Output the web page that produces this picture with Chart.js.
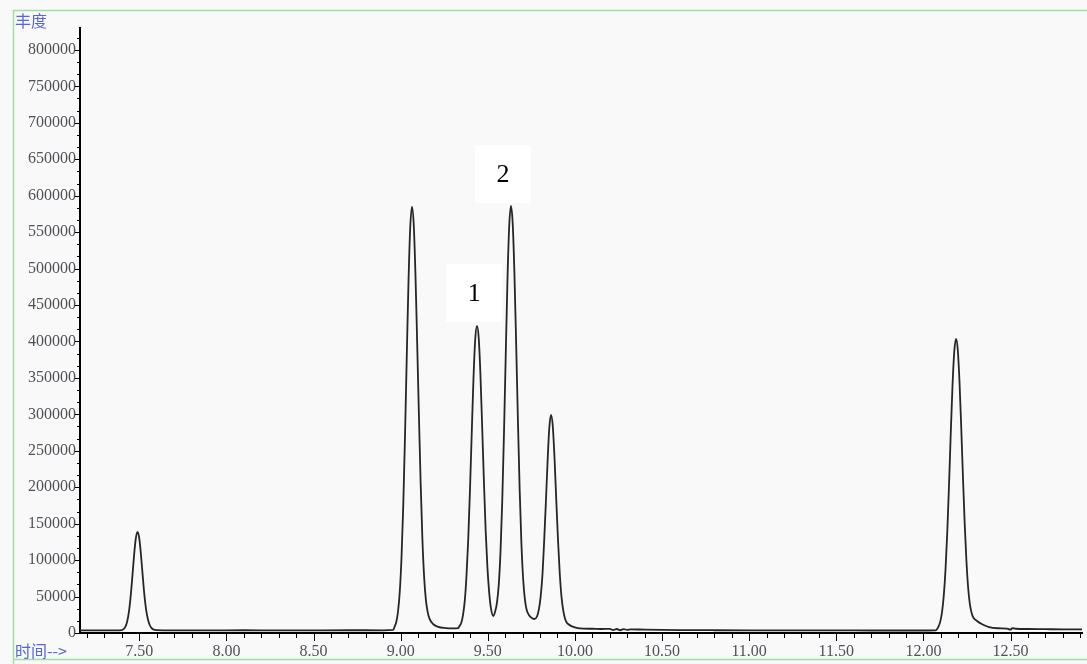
<!DOCTYPE html>
<html>
<head>
<meta charset="utf-8">
<script src="https://cdn.jsdelivr.net/npm/chart.js@4/dist/chart.umd.min.js"></script>
<style>
  html, body { margin: 0; padding: 0; background: #f9f9f9; overflow: hidden; }
  canvas { display: block; }
</style>
</head>
<body>
<canvas id="c" width="1087" height="664"></canvas>
<script>
// ---- data ----
const retentionTimes = [
  7.16, 7.25, 7.33, 7.40, 7.41, 7.42, 7.43, 7.44, 7.45, 7.46, 7.47, 7.48, 7.49, 7.50, 7.51, 7.52, 7.53, 7.54, 7.55, 7.56, 7.57, 7.58, 7.60,
  7.70, 7.90, 8.10, 8.30, 8.50, 8.70, 8.90, 8.957,
  8.965, 8.975, 8.985, 8.995, 9.005, 9.015, 9.025, 9.035, 9.045, 9.055, 9.065, 9.075, 9.085, 9.095, 9.105, 9.115, 9.125, 9.135, 9.145, 9.155, 9.165, 9.185, 9.215, 9.26, 9.30, 9.33,
  9.338, 9.348, 9.358, 9.368, 9.378, 9.388, 9.398, 9.408, 9.418, 9.428, 9.438, 9.448, 9.458, 9.468, 9.478, 9.488, 9.498, 9.508, 9.518, 9.532,
  9.543, 9.553, 9.563, 9.573, 9.583, 9.593, 9.603, 9.613, 9.623, 9.633, 9.643, 9.653, 9.663, 9.673, 9.683, 9.693, 9.703, 9.713, 9.723, 9.733, 9.748, 9.767,
  9.783, 9.793, 9.803, 9.813, 9.823, 9.833, 9.843, 9.853, 9.863, 9.873, 9.883, 9.893, 9.903, 9.913, 9.923, 9.933, 9.943, 9.953, 9.963, 9.983, 10.01, 10.05, 10.10, 10.15,
  10.20, 10.22, 10.24, 10.26, 10.28, 10.30, 10.32, 10.40, 10.60, 10.80, 11.00, 11.20, 11.40, 11.60, 11.80, 12.00, 12.07,
  12.087, 12.097, 12.107, 12.117, 12.127, 12.137, 12.147, 12.157, 12.167, 12.177, 12.187, 12.197, 12.207, 12.217, 12.227, 12.237, 12.247, 12.257, 12.267, 12.277, 12.287, 12.307, 12.337, 12.377, 12.43, 12.48, 12.50, 12.51, 12.53, 12.60, 12.70, 12.80, 12.91
];
const abundance = [
  3500, 3700, 3600, 4000, 5300, 8300, 15000, 27800, 48600, 76000, 105800, 129300, 138600, 130000, 107000, 78000, 51000, 31000, 18500, 11000, 7000, 5000, 4000,
  3700, 3600, 3800, 3600, 3700, 3800, 3700, 4200,
  8500, 15000, 29500, 56500, 103500, 174500, 269500, 377500, 481000, 556000, 584500, 561000, 492000, 397000, 298000, 204000, 128000, 76000, 45000, 29000, 20000, 12500, 8500, 6800, 6300, 6800,
  9500, 14000, 25000, 44000, 79000, 129000, 197000, 274000, 349000, 403000, 421200, 405000, 354000, 282000, 207000, 140000, 90000, 56000, 34000, 23300,
  30000, 42000, 66000, 111000, 180000, 274000, 380000, 484000, 558000, 585800, 562000, 493000, 396000, 292000, 197000, 123000, 74000, 46000, 32000, 26000, 21500, 19200,
  23000, 32000, 49000, 77000, 123000, 177000, 234000, 281000, 299100, 284000, 240000, 183000, 128000, 82000, 50000, 31000, 20000, 14500, 12000, 9000, 7000, 6000, 5800, 5500,
  5600, 4000, 5500, 3800, 5400, 4200, 5000, 4600, 4000, 3800, 3700, 3600, 3500, 3500, 3400, 3400, 3600,
  9000, 16000, 29000, 52000, 88000, 139000, 204000, 275000, 340000, 386000, 403400, 389000, 345000, 282000, 213000, 149000, 98000, 61000, 39000, 27000, 21000, 16500, 12000, 8000, 6500, 6000, 4500, 6800, 5800, 5500, 5200, 5000, 5000
];
const xTickValues = [7.5, 8.0, 8.5, 9.0, 9.5, 10.0, 10.5, 11.0, 11.5, 12.0, 12.5];
const yTickValues = [0, 50000, 100000, 150000, 200000, 250000, 300000, 350000, 400000, 450000, 500000, 550000, 600000, 650000, 700000, 750000, 800000];
const peakLabels = ['1', '2'];
const peakLabelTimes = [9.423, 9.587];
const peakLabelValues = [465000, 628000];
const yAxisTitle = '丰度';
const xAxisTitle = '时间-->';

const X_MIN = 7.16, X_MAX = 12.91, Y_MAX = 830000;

const decor = {
  id: 'decor',
  beforeDraw(chart) {
    const ctx = chart.ctx;
    ctx.save();
    ctx.fillStyle = '#f9f9f9';
    ctx.fillRect(0, 0, chart.width, chart.height);
    ctx.strokeStyle = '#9fe29f';
    ctx.lineWidth = 1.5;
    ctx.beginPath();
    ctx.moveTo(13.5, 664); ctx.lineTo(13.5, 10.5); ctx.lineTo(1087, 10.5);
    ctx.stroke();
    ctx.beginPath();
    ctx.moveTo(13.5, 659.5); ctx.lineTo(1087, 659.5);
    ctx.stroke();
    ctx.restore();
  },
  beforeDatasetsDraw(chart) {
    const ctx = chart.ctx, xs = chart.scales.x, ys = chart.scales.y;
    ctx.save();
    peakLabels.forEach((lab, i) => {
      const px = xs.getPixelForValue(peakLabelTimes[i]);
      const py = ys.getPixelForValue(peakLabelValues[i]);
      ctx.fillStyle = '#ffffff';
      ctx.fillRect(px - 28, py - 30, 56, 58);
    });
    ctx.restore();
  },
  afterDraw(chart) {
    const ctx = chart.ctx, xs = chart.scales.x, ys = chart.scales.y, ca = chart.chartArea;
    ctx.save();
    ctx.strokeStyle = '#000';
    ctx.lineWidth = 1;
    // x ticks (every 0.1, longer at 0.5)
    for (let k = 72; k <= 129; k++) {
      const px = Math.round(xs.getPixelForValue(k / 10)) + 0.5;
      const len = (k % 5 === 0) ? 8 : 5;
      ctx.beginPath(); ctx.moveTo(px, ca.bottom); ctx.lineTo(px, ca.bottom + len); ctx.stroke();
    }
    // y ticks (three per 50000)
    for (let k = 0; k * 50000 / 3 <= Y_MAX; k++) {
      const py = Math.round(ys.getPixelForValue(k * 50000 / 3)) + 0.5;
      const len = (k % 3 === 0) ? 5 : 3;
      ctx.beginPath(); ctx.moveTo(ca.left, py); ctx.lineTo(ca.left - len, py); ctx.stroke();
    }
    // peak labels
    ctx.fillStyle = '#000';
    ctx.font = '26px "Liberation Serif", serif';
    ctx.textAlign = 'center';
    ctx.textBaseline = 'middle';
    peakLabels.forEach((lab, i) => {
      ctx.fillText(lab, xs.getPixelForValue(peakLabelTimes[i]), ys.getPixelForValue(peakLabelValues[i]));
    });
    // axis titles
    ctx.fillStyle = '#5566dd';
    ctx.font = '16px "Noto Sans CJK SC", sans-serif';
    ctx.textAlign = 'left';
    ctx.fillText(yAxisTitle, 15, 21);
    ctx.fillText(xAxisTitle, 15, 651);
    ctx.restore();
  }
};

new Chart(document.getElementById('c'), {
  type: 'line',
  data: {
    datasets: [{
      data: retentionTimes.map((t, i) => ({ x: t, y: abundance[i] })),
      borderColor: '#262626',
      borderWidth: 1.8,
      pointRadius: 0,
      fill: false,
      cubicInterpolationMode: 'monotone'
    }]
  },
  options: {
    responsive: false,
    devicePixelRatio: 1,
    animation: false,
    layout: { padding: { left: 0, right: 5, top: 28, bottom: 0 } },
    plugins: { legend: { display: false }, tooltip: { enabled: false } },
    scales: {
      x: {
        type: 'linear',
        min: X_MIN, max: X_MAX,
        afterFit(s) { s.height = 31; },
        afterBuildTicks(s) { s.ticks = xTickValues.map(v => ({ value: v })); },
        grid: { display: false, drawTicks: false },
        border: { display: true, color: '#000', width: 2 },
        ticks: {
          autoSkip: false, maxRotation: 0, padding: 9,
          color: '#505058',
          font: { family: '"Liberation Serif", serif', size: 16 },
          callback: v => Number(v).toFixed(2)
        }
      },
      y: {
        type: 'linear',
        min: 0, max: Y_MAX,
        afterFit(s) { s.width = 80; },
        afterBuildTicks(s) { s.ticks = yTickValues.map(v => ({ value: v })); },
        grid: { display: false, drawTicks: false },
        border: { display: true, color: '#000', width: 2 },
        ticks: {
          autoSkip: false, padding: 4,
          color: '#505058',
          font: { family: '"Liberation Serif", serif', size: 16 },
          callback: v => String(v)
        }
      }
    }
  },
  plugins: [decor]
});
</script>
</body>
</html>
